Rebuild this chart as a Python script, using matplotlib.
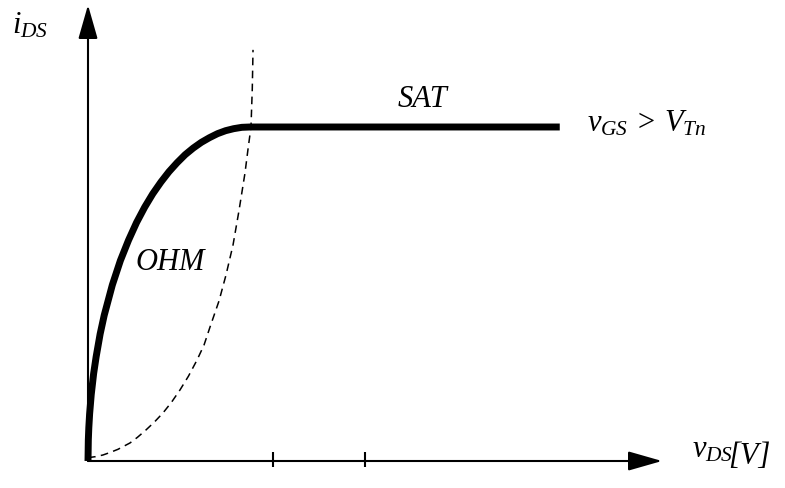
import matplotlib
matplotlib.use('Agg')
import matplotlib.pyplot as plt

plt.rcParams['mathtext.fontset'] = 'custom'
plt.rcParams['mathtext.it'] = 'Liberation Serif:italic'
plt.rcParams['mathtext.rm'] = 'Liberation Serif:italic'
plt.rcParams['mathtext.cal'] = 'Liberation Serif:italic'

# Output characteristic (ohmic rise, then saturation)
vds_curve = [0, 0.0035, 0.0088, 0.0175, 0.035, 0.061, 0.088, 0.131, 0.175, 0.263,
             0.35, 0.438, 0.525, 0.613, 0.7, 0.788, 0.875, 0.963, 1.05, 1.138,
             1.225, 1.313, 1.4, 1.488, 1.575, 1.663, 1.75, 5.10]
ids_curve = [0, 0.063, 0.0999, 0.141, 0.199, 0.262, 0.312, 0.380, 0.436, 0.527,
             0.6, 0.661, 0.714, 0.760, 0.8, 0.835, 0.866, 0.893, 0.917, 0.937,
             0.954, 0.968, 0.98, 0.989, 0.995, 0.999, 1.0, 1.0]

# Boundary between ohmic and saturation region (dashed)
vds_edge = [0, 0.081, 0.162, 0.243, 0.324, 0.454, 0.535, 0.627, 0.719, 0.811,
            0.903, 0.995, 1.086, 1.178, 1.254, 1.319, 1.416, 1.492, 1.568, 1.632,
            1.697, 1.730, 1.762, 1.776, 1.784]
ids_edge = [0.010, 0.013, 0.018, 0.026, 0.035, 0.054, 0.071, 0.093, 0.117, 0.144,
            0.176, 0.213, 0.254, 0.302, 0.347, 0.401, 0.479, 0.557, 0.647, 0.749,
            0.862, 0.934, 1.0, 1.114, 1.231]

x_ticks = [2, 3]

W, H = 785, 488
fig = plt.figure(figsize=(W / 100, H / 100), dpi=100)
ax = fig.add_axes([0, 0, 1, 1])
ax.set_xlim(-88 / 92.5, (W - 88) / 92.5)
ax.set_ylim(-27 / 334, 461 / 334)
ax.axis('off')

# axes with arrow heads
arrow = dict(arrowstyle='-|>,head_length=2.1,head_width=0.6', lw=1.5,
             color='black', shrinkA=0, shrinkB=0)
ax.annotate('', xy=((662 - 88) / 92.5, 0), xytext=(0, 0), arrowprops=arrow)
ax.annotate('', xy=(0, (461 - 5) / 334), xytext=(0, 0), arrowprops=arrow)

ax.vlines(x_ticks, -6 / 334, 9 / 334, color='black', lw=1.5)

ax.plot(vds_edge, ids_edge, color='black', lw=1.1, ls=(0, (5, 3.5)))
ax.plot(vds_curve, ids_curve, color='black', lw=5, solid_capstyle='butt',
        solid_joinstyle='round')


def ftext(x, y, s, **kw):
    fig.text(x / W, 1 - y / H, s, ha='left', va='baseline', fontsize=22, **kw)


ftext(12, 33, r'$i_{DS}$')
ftext(135, 270, 'OHM', family='Liberation Serif', style='italic')
ftext(398, 107, 'SAT', family='Liberation Serif', style='italic')
ftext(587, 131, r'$v_{GS}\,>\,V_{Tn}$')
ftext(692, 458, r'$v_{DS}$')
ftext(728, 464, '[V]', family='Liberation Serif', style='italic')

fig.savefig('out.png', dpi=100)
